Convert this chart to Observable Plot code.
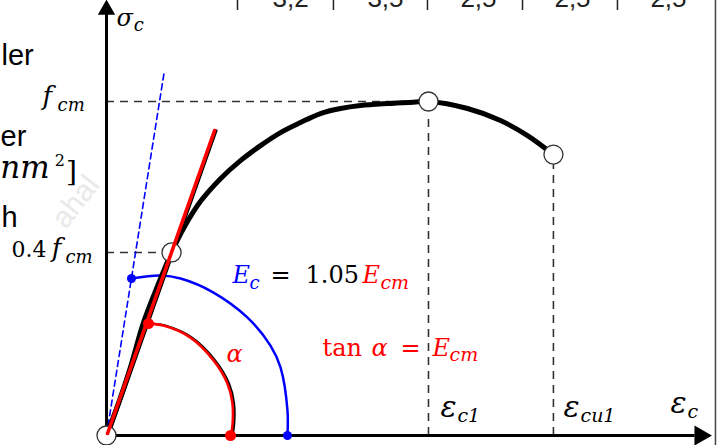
<!DOCTYPE html>
<html><head><meta charset="utf-8">
<script src="https://cdn.jsdelivr.net/npm/d3@7"></script>
<script src="https://cdn.jsdelivr.net/npm/@observablehq/plot@0.6"></script>
<style>body{margin:0;background:#fff} svg{display:block}</style>
</head><body><div id="chart"></div>
<script>
// ---- data (strain in ‰-like units, stress as σc / fcm) ----
const curveStrain = [0, 0.109, 0.186, 0.287, 0.404, 0.505, 0.598, 0.730, 0.885, 1.040, 1.196, 1.351, 1.506, 1.661, 1.817, 1.972, 2.182, 2.384, 2.5, 2.803, 3.059, 3.269, 3.47];
const curveStress = [0, 0.114, 0.204, 0.338, 0.455, 0.548, 0.620, 0.701, 0.769, 0.823, 0.868, 0.907, 0.937, 0.964, 0.979, 0.988, 0.994, 0.998, 1.0, 0.979, 0.943, 0.898, 0.841];

const keyStrain = [0, 0.505, 2.5, 3.47];      // origin, 0.4fcm point, εc1, εcu1
const keyStress = [0, 0.548, 1.0, 0.841];

const tangentStrain = [0.008, 0.839];          // tan α = Ecm
const tangentStress = [0.006, 0.913];
const secantStrain = [0, 0.45];                // Ec = 1.05 Ecm
const secantStress = [0, 1.093];

const blueArcStrain = [0.194, 0.419, 0.575, 0.831, 1.095, 1.273, 1.351, 1.405, 1.405];
const blueArcStress = [0.470, 0.479, 0.470, 0.428, 0.353, 0.269, 0.204, 0.075, 0];
const redArcStrain = [0.326, 0.443, 0.652, 0.831, 0.939, 0.978, 0.975, 0.963];
const redArcStress = [0.335, 0.329, 0.293, 0.225, 0.156, 0.096, 0.02, 0];

const topRowLabels = ["3,2", "3,5", "2,5", "2,5", "2,5"];
const topRowCenters = [1.429, 2.166, 2.888, 3.618, 4.363];
const topRowSeparators = [1.017, 1.762, 2.492, 3.230, 3.967];

// ---- build tables ----
const zip = (xs, ys) => xs.map((x, i) => ({x, y: ys[i]}));
const curve = zip(curveStrain, curveStress);
const keys = zip(keyStrain, keyStress);
const tangent = zip(tangentStrain, tangentStress);
const secant = zip(secantStrain, secantStress);
const blueArc = zip(blueArcStrain, blueArcStress);
const redArc = zip(redArcStrain, redArcStress);
const topRow = topRowLabels.map((t, i) => ({t, x: topRowCenters[i]}));

const SERIF = "DejaVu Serif, Liberation Serif, serif";
const SANS = "Liberation Sans, Arial, sans-serif";
const BLUE = "#0000ff", RED = "#ff0000";

// annotation text pieces
const labels = [
  // σc
  {t: "σ", x: 0.078, y: 1.2275, s: 24},
  {t: "c", x: 0.212, y: 1.2096, s: 18},
  // fcm
  {t: "f", x: -0.497, y: 0.991, s: 26},
  {t: "cm", x: -0.380, y: 0.973, s: 18},
  // 0.4fcm
  {t: "0.4", x: -0.738, y: 0.533, s: 22, it: false},
  {t: "f", x: -0.425, y: 0.533, s: 26},
  {t: "cm", x: -0.318, y: 0.515, s: 18},
  // Ec = 1.05 Ecm
  {t: "E", x: 0.978, y: 0.458, s: 24, c: BLUE},
  {t: "c", x: 1.110, y: 0.440, s: 18, c: BLUE},
  {t: "=", x: 1.351, y: 0.458, s: 24, it: false, a: "middle"},
  {t: "1.05", x: 1.545, y: 0.458, s: 24, it: false},
  {t: "E", x: 1.988, y: 0.458, s: 24, c: RED},
  {t: "cm", x: 2.127, y: 0.440, s: 19, c: RED},
  // tan α = Ecm
  {t: "tan", x: 1.677, y: 0.2395, s: 24, it: false, c: RED},
  {t: "α", x: 2.058, y: 0.2395, s: 24, c: RED},
  {t: "=", x: 2.360, y: 0.2395, s: 24, it: false, a: "middle", c: RED},
  {t: "E", x: 2.531, y: 0.2395, s: 24, c: RED},
  {t: "cm", x: 2.663, y: 0.2216, s: 19, c: RED},
  // α
  {t: "α", x: 0.932, y: 0.2186, s: 24, c: RED},
  // strains
  {t: "ε", x: 2.593, y: 0.054, s: 30},
  {t: "c1", x: 2.725, y: 0.039, s: 19},
  {t: "ε", x: 3.548, y: 0.054, s: 30},
  {t: "cu1", x: 3.680, y: 0.039, s: 19},
  {t: "ε", x: 4.379, y: 0.066, s: 30},
  {t: "c", x: 4.511, y: 0.051, s: 19}
];

// cut-off fragments of the surrounding page at the left edge
const leftFragments = [
  {t: "ler", x: -0.815, y: 1.108, s: 29, f: SANS, it: false},
  {t: "er", x: -0.823, y: 0.868, s: 29, f: SANS, it: false},
  {t: "nm", x: -0.825, y: 0.772, s: 31, f: SERIF},
  {t: "2", x: -0.402, y: 0.808, s: 16, f: SERIF, it: false},
  {t: "]", x: -0.314, y: 0.763, s: 28, f: SERIF, it: false},
  {t: "h", x: -0.815, y: 0.623, s: 29, f: SANS, it: false}
];

const textMarks = [...labels, ...leftFragments].map(d =>
  Plot.text([d], {
    x: "x", y: "y", text: "t",
    textAnchor: d.a || "start", lineAnchor: "bottom",
    fontSize: d.s, fontFamily: d.f || SERIF,
    fontStyle: d.it === false ? "normal" : "italic",
    fill: d.c || "black"
  })
);

const dash = {stroke: "#333", strokeWidth: 1.6, strokeDasharray: "8,6"};

const chart = Plot.plot({
  width: 722, height: 445,
  marginLeft: 106, marginRight: 0, marginTop: 0, marginBottom: 10,
  x: {domain: [0, 616 / 128.8], axis: null},
  y: {domain: [0, 435 / 334], axis: null},
  style: {background: "#fff", overflow: "visible"},
  marks: [
    // faint watermark
    Plot.text(["ahal"], {x: () => -0.24, y: () => 0.70, text: d => d, rotate: -52, fontSize: 30, fontFamily: SANS, fill: "#e9e9e9"}),
    // page border & top table row fragment
    Plot.ruleX([4.728], {y1: -0.04, y2: 1.31, stroke: "#444", strokeWidth: 1.5}),
    Plot.ruleX(topRowSeparators, {y1: 1.2725, y2: 1.31, stroke: "#222", strokeWidth: 1.5}),
    Plot.text(topRow, {x: "x", y: () => 1.2844, text: "t", lineAnchor: "bottom", fontSize: 26, fontFamily: SANS, fill: "#222"}),
    // guide lines
    Plot.ruleY([keys[2]], {y: "y", x1: 0, x2: 2.44, ...dash}),
    Plot.ruleY([keys[1]], {y: "y", x1: 0, x2: 0.43, ...dash}),
    Plot.ruleX([keys[2]], {x: "x", y1: 0, y2: 0.964, ...dash}),
    Plot.ruleX([keys[3]], {x: "x", y1: 0, y2: 0.811, ...dash}),
    // axes
    Plot.ruleX([0], {y1: 0, y2: 1.265, stroke: "black", strokeWidth: 3}),
    Plot.ruleY([0], {x1: -0.02, x2: 4.57, stroke: "black", strokeWidth: 3}),
    Plot.dot([{x: 0, y: 1.275}], {x: "x", y: "y", symbol: "triangle", r: 5.5, fill: "black", stroke: "black"}),
    Plot.dot([{x: 4.61, y: 0}], {x: "x", y: "y", symbol: "triangle", r: 6.5, rotate: 90, fill: "black", stroke: "black"}),
    // secant (blue dashed)
    Plot.line(secant, {x: "x", y: "y", stroke: BLUE, strokeWidth: 1.6, strokeDasharray: "6,4"}),
    // arcs
    Plot.line(blueArc, {x: "x", y: "y", curve: "catmull-rom", stroke: BLUE, strokeWidth: 2.5}),
    Plot.line(redArc, {x: "x", y: "y", curve: "catmull-rom", stroke: "black", strokeWidth: 2.2, dx: 1.6}),
    Plot.line(redArc, {x: "x", y: "y", curve: "catmull-rom", stroke: RED, strokeWidth: 2.6}),
    // stress-strain curve
    Plot.line(curve, {x: "x", y: "y", curve: "catmull-rom", stroke: "black", strokeWidth: 5, strokeLinecap: "round"}),
    Plot.line(tangent, {x: "x", y: "y", stroke: "black", strokeWidth: 2, dx: 2}),
    // key points
    Plot.dot(keys, {x: "x", y: "y", r: 9.5, fill: "white", stroke: "#333", strokeWidth: 1.3}),
    // tangent (red)
    Plot.line(tangent, {x: "x", y: "y", stroke: RED, strokeWidth: 3.6}),
    // arc end dots
    Plot.dot([blueArc[0], blueArc[blueArc.length - 1]], {x: "x", y: "y", r: 4.5, fill: BLUE}),
    Plot.dot([redArc[0], redArc[redArc.length - 1]], {x: "x", y: "y", r: 5.5, fill: RED}),
    ...textMarks
  ]
});
document.getElementById("chart").append(chart);
</script>
</body></html>
